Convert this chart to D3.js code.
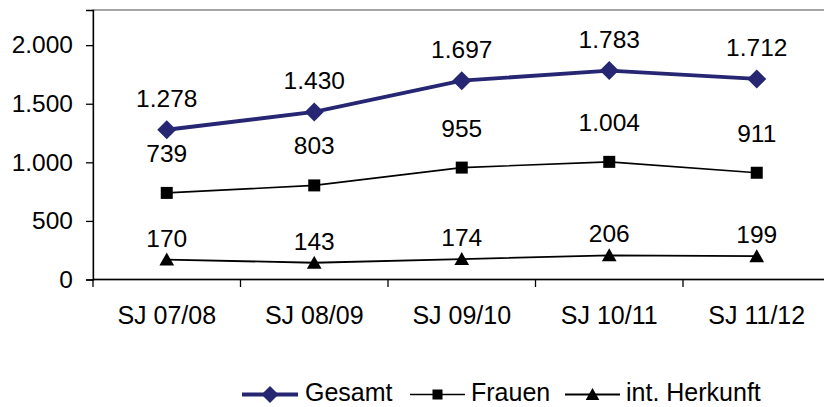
<!DOCTYPE html>
<html><head><meta charset="utf-8">
<script src="https://cdn.jsdelivr.net/npm/d3@7"></script>
<style>
html,body{margin:0;padding:0;background:#fff;}
svg{display:block;font-family:"Liberation Sans",Arial,sans-serif;}
</style></head>
<body>
<svg id="c" width="824" height="407"></svg>
<script>
const categories = ["SJ 07/08","SJ 08/09","SJ 09/10","SJ 10/11","SJ 11/12"];
const gesamt = [1278,1430,1697,1783,1712];
const frauen = [739,803,955,1004,911];
const herkunft = [170,143,174,206,199];
const yTicks = [0,500,1000,1500,2000];
const seriesNames = ["Gesamt","Frauen","int. Herkunft"];

const loc = d3.formatLocale({decimal:",",thousands:".",grouping:[3],currency:["","€"]});
const fmt = loc.format(",d");

const svg = d3.select("#c");
const x = d3.scaleBand().domain(categories).range([93, 830.5]).padding(0);
const y = d3.scaleLinear().domain([0, 2300]).range([279.5, 10]);

// plot border
svg.append("rect").attr("x",93).attr("y",10).attr("width",830.5-93).attr("height",279.5-10)
  .attr("fill","none").attr("stroke","#888").attr("stroke-width",1.5);

// y axis
const ya = svg.append("g").attr("transform","translate(93,0)")
  .call(d3.axisLeft(y).tickValues(yTicks).tickFormat(fmt).tickSize(7).tickPadding(13));
ya.select(".domain").attr("stroke","#000").attr("stroke-width",1.3);
ya.selectAll(".tick line").attr("stroke","#000").attr("stroke-width",1.3);
ya.selectAll("text").attr("font-size",24.5).attr("fill","#000").attr("font-family","Liberation Sans, Arial, sans-serif");

// x axis
const xa = svg.append("g").attr("transform","translate(0,279.5)")
  .call(d3.axisBottom(x).tickSize(0).tickPadding(27));
xa.select(".domain").remove();
xa.selectAll("text").attr("font-size",25).attr("fill","#000").attr("font-family","Liberation Sans, Arial, sans-serif");
svg.append("line").attr("x1",93).attr("x2",830.5).attr("y1",279.5).attr("y2",279.5)
  .attr("stroke","#000").attr("stroke-width",1.3);
const edges = categories.map(c => x(c)).concat([x(categories[categories.length-1]) + x.bandwidth()]);
svg.selectAll(".xt").data(edges).enter().append("line")
  .attr("x1",d=>d).attr("x2",d=>d).attr("y1",279.5).attr("y2",287)
  .attr("stroke","#000").attr("stroke-width",1.3);

const cx = c => x(c) + x.bandwidth()/2;

function marker(sel, type, s) {
  if (type === "diamond") return sel.append("path").attr("d",`M0,${-s}L${s},0L0,${s}L${-s},0Z`);
  if (type === "square") return sel.append("rect").attr("x",-s).attr("y",-s).attr("width",2*s).attr("height",2*s);
  return sel.append("path").attr("d",`M0,${-s}L${s*1.05},${s*0.85}L${-s*1.05},${s*0.85}Z`);
}

const series = [
  {name:seriesNames[0], vals:gesamt, color:"#262673", w:3.8, type:"diamond", ms:9.5, lms:8.5, off:23},
  {name:seriesNames[1], vals:frauen, color:"#000", w:1.6, type:"square", ms:6, lms:5, off:31},
  {name:seriesNames[2], vals:herkunft, color:"#000", w:1.8, type:"triangle", ms:7, lms:6.5, off:13}
];

const line = d3.line().x((d,i)=>cx(categories[i])).y(d=>y(d));
series.forEach(s => {
  svg.append("path").datum(s.vals).attr("d",line).attr("fill","none")
    .attr("stroke",s.color).attr("stroke-width",s.w);
  s.vals.forEach((v,i) => {
    const g = svg.append("g").attr("transform",`translate(${cx(categories[i])},${y(v)})`);
    marker(g, s.type, s.ms).attr("fill",s.color);
    svg.append("text").attr("x",cx(categories[i])).attr("y",y(v)-s.off)
      .attr("text-anchor","middle").attr("font-size",24.5).attr("fill","#000").text(fmt(v));
  });
});

// legend
const leg = [
  {x1:242,x2:298,tx:305},
  {x1:410,x2:465,tx:471},
  {x1:565,x2:620,tx:626}
];
const ly = 394.5;
series.forEach((s,i) => {
  const L = leg[i];
  svg.append("line").attr("x1",L.x1).attr("x2",L.x2).attr("y1",ly).attr("y2",ly)
    .attr("stroke",s.color).attr("stroke-width",s.w);
  const g = svg.append("g").attr("transform",`translate(${(L.x1+L.x2)/2},${ly})`);
  marker(g, s.type, s.lms).attr("fill",s.color);
  svg.append("text").attr("x",L.tx).attr("y",ly+6.5).attr("font-size",25).attr("fill","#000").text(s.name);
});
</script>
</body></html>
